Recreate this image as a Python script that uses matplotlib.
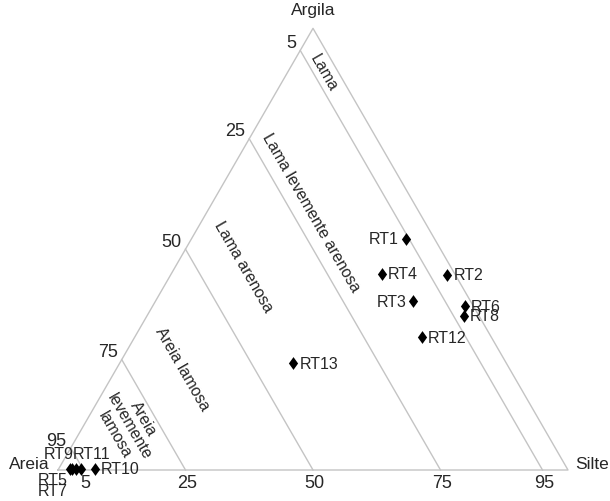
import numpy as np
import matplotlib
matplotlib.use("Agg")
import matplotlib.pyplot as plt
from matplotlib.path import Path

plt.rcParams['font.family'] = ['Liberation Sans', 'DejaVu Sans']

# Sample compositions (%): sand (Areia), silt (Silte), clay (Argila)
samples = ["RT1", "RT2", "RT3", "RT4", "RT5", "RT6", "RT7",
           "RT8", "RT9", "RT10", "RT11", "RT12", "RT13"]
areia = [5.6, 1.6, 11.2, 14.3, 97.4, 1.7, 97.1, 3.0, 96.3, 92.6, 95.4, 13.6, 41.8]
silte = [42.0, 54.2, 50.6, 41.3, 2.3, 61.2, 2.6, 62.1, 3.4, 7.1, 4.3, 56.3, 34.0]
argila = [52.4, 44.2, 38.2, 44.4, 0.3, 37.1, 0.3, 34.9, 0.3, 0.3, 0.3, 30.1, 24.2]

# Class boundaries: constant sand content (%)
sand_limits = [95, 75, 50, 25, 5]
left_labels = ["95", "75", "50", "25", "5"]
bottom_labels = ["5", "25", "50", "75", "95"]

# Class names and where they sit (sand %, clay %)
classes = ["Lama", "Lama levemente arenosa", "Lama arenosa",
           "Areia lamosa", "Areia\nlevemente\nlamosa"]
class_sand = [2.9, 21.1, 40.4, 64.1, 81.1]
class_clay = [90.2, 58.5, 46.3, 23.1, 10.0]

GRID = "#c4c4c4"
TXT = "#262626"


def tern(sand, silt, clay):
    s = np.asarray(sand, float) + np.asarray(silt, float) + np.asarray(clay, float)
    si = np.asarray(silt, float) / s
    cl = np.asarray(clay, float) / s
    return si + cl / 2.0, cl * np.sqrt(3) / 2.0


fig = plt.figure(figsize=(6.10, 5.02), dpi=100)
ax = fig.add_axes([0, 0, 1, 1])
ax.set_xlim(-58 / 510, 552 / 510)
ax.set_ylim(-31 / 510, 471 / 510)
ax.set_aspect("equal")
ax.axis("off")

# Triangle outline
tx, ty = tern([100, 0, 0, 100], [0, 100, 0, 0], [0, 0, 100, 0])
ax.plot(tx, ty, color=GRID, lw=1.0, zorder=1)

# Constant-sand boundary lines, from the Areia-Argila edge to the Areia-Silte edge
for sv, ll, bl in zip(sand_limits, left_labels, bottom_labels):
    x0, y0 = tern(sv, 0, 100 - sv)
    x1, y1 = tern(sv, 100 - sv, 0)
    ax.plot([x0, x1], [y0, y1], color=GRID, lw=1.0, zorder=1)
    ax.annotate(ll, (x0, y0), xytext=(-3, -0.5), textcoords="offset points",
                ha="right", va="bottom", fontsize=13, color=TXT)
    ax.annotate(bl, (x1, y1), xytext=(1, -3), textcoords="offset points",
                ha="center", va="top", fontsize=13, color=TXT)

# Vertex names
ax.annotate("Argila", tern(0, 0, 100), xytext=(0, 8), textcoords="offset points",
            ha="center", va="bottom", fontsize=12.5, color=TXT)
ax.annotate("Areia", tern(100, 0, 0), xytext=(-6, -1), textcoords="offset points",
            ha="right", va="bottom", fontsize=12.5, color=TXT)
ax.annotate("Silte", tern(0, 100, 0), xytext=(5, -1), textcoords="offset points",
            ha="left", va="bottom", fontsize=12.5, color=TXT)

# Class names, rotated along the boundary lines
for name, sv, cv in zip(classes, class_sand, class_clay):
    x, y = tern(sv, 100 - sv - cv, cv)
    ax.text(x, y, name, rotation=-60, rotation_mode="anchor", ha="center",
            va="center", multialignment="center", fontsize=11.5, color=TXT,
            linespacing=1.1)

# Sample points
diamond = Path([(0, 1), (0.72, 0), (0, -1), (-0.72, 0), (0, 1)],
               [Path.MOVETO, Path.LINETO, Path.LINETO, Path.LINETO, Path.CLOSEPOLY])
px, py = tern(areia, silte, argila)
ax.scatter(px, py, marker=diamond, s=85, color="black", zorder=3, linewidths=0)

# Label placement (offset in points, horizontal alignment)
label_pos = {
    "RT1": ((-5, 0), "right"), "RT3": ((-5, 0), "right"),
    "RT5": ((-2, -8), "right"), "RT7": ((-3, -15.5), "right"),
    "RT9": ((-2, 11), "right"), "RT11": ((-5.5, 11), "left"),
}
for name, x, y in zip(samples, px, py):
    off, ha = label_pos.get(name, ((4.5, 0), "left"))
    ax.annotate(name, (x, y), xytext=off, textcoords="offset points",
                ha=ha, va="center", fontsize=11.5, color=TXT, zorder=4)

fig.savefig("out.png", dpi=100, facecolor="white")
